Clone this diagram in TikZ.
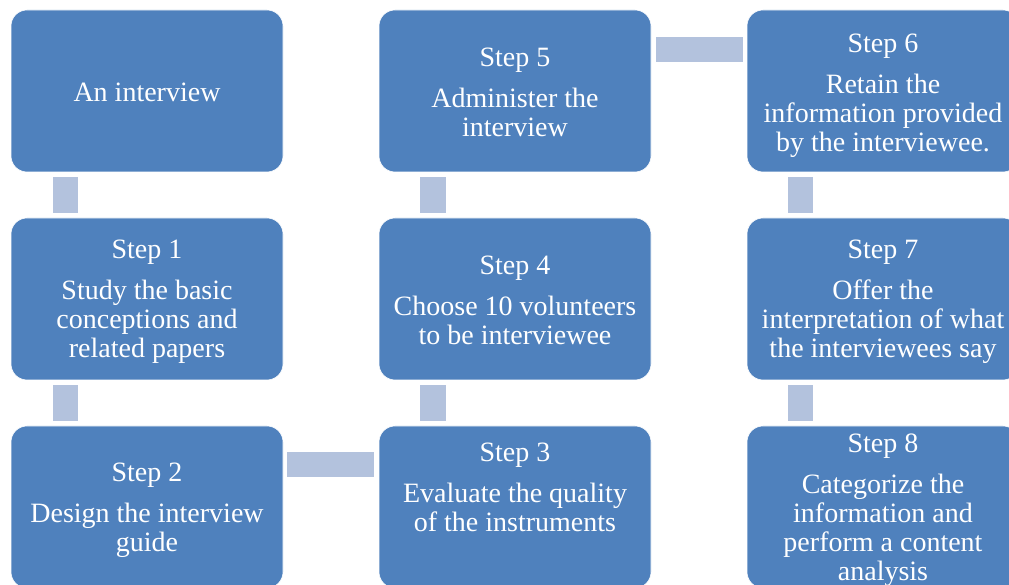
\documentclass[tikz,border=0pt]{standalone}
\usepackage{fontspec}
\setmainfont{Liberation Serif}
\definecolor{boxblue}{HTML}{4F81BD}
\definecolor{connblue}{HTML}{B3C2DD}
\begin{document}
\begin{tikzpicture}[x=1pt,y=1pt,
  box/.style={draw=white, line width=0.6pt, fill=boxblue, rounded corners=16pt,
    minimum width=272pt, minimum height=162pt, inner sep=0pt, outer sep=0pt},
  lbl/.style={text=white, font=\fontsize{28}{29}\selectfont, align=center, inner sep=0pt},
  conn/.style={fill=connblue}]
\useasboundingbox (0,0) rectangle (1009,585);
\clip (0,0) rectangle (1009,585);
% boxes
\node[box] (b0) at (147,494) {};
\node[box] (b1) at (147,286) {};
\node[box] (b2) at (147,78) {};
\node[box] (b3) at (515,78) {};
\node[box] (b4) at (515,286) {};
\node[box] (b5) at (515,494) {};
\node[box] (b6) at (883,494) {};
\node[box] (b7) at (883,286) {};
\node[box] (b8) at (883,78) {};
% labels
\node[lbl] (t0) at ([yshift=-1]b0.center) {An interview};
\node[lbl] (t1) at ([yshift=-3]b1.center) {Step 1\\[12pt]Study the basic\\conceptions and\\related papers};
\node[lbl] (t2) at ([yshift=-3]b2.center) {Step 2\\[12pt]Design the interview\\guide};
\node[lbl] (t3) at ([yshift=20]b3.center) {Step 3\\[12pt]Evaluate the quality\\of the instruments};
\node[lbl] (t4) at ([yshift=-1]b4.center) {Step 4\\[12pt]Choose 10 volunteers\\to be interviewee};
\node[lbl] (t5) at ([yshift=-1]b5.center) {Step 5\\[12pt]Administer the\\interview};
\node[lbl] (t6) at ([yshift=-4.5]b6.center) {Step 6\\[12pt]Retain the\\information provided\\by the interviewee.};
\node[lbl] (t7) at ([yshift=-3]b7.center) {Step 7\\[12pt]Offer the\\interpretation of what\\the interviewees say};
\node[lbl] (t8) at ([yshift=-3]b8.center) {Step 8\\[12pt]Categorize the\\information and\\perform a content\\analysis};
% connectors
\fill[conn] ([xshift=42,yshift=-5]b0.south west) rectangle ([xshift=67,yshift=5]b1.north west);
\fill[conn] ([xshift=42,yshift=-5]b1.south west) rectangle ([xshift=67,yshift=5]b2.north west);
\fill[conn] ([xshift=4,yshift=-26]b2.north east) rectangle ([xshift=-5,yshift=-51]b3.north west);
\fill[conn] ([xshift=41,yshift=-5]b4.south west) rectangle ([xshift=67,yshift=5]b3.north west);
\fill[conn] ([xshift=41,yshift=-5]b5.south west) rectangle ([xshift=67,yshift=5]b4.north west);
\fill[conn] ([xshift=5,yshift=-27]b5.north east) rectangle ([xshift=-4,yshift=-52]b6.north west);
\fill[conn] ([xshift=41,yshift=-5]b6.south west) rectangle ([xshift=66,yshift=5]b7.north west);
\fill[conn] ([xshift=41,yshift=-5]b7.south west) rectangle ([xshift=66,yshift=5]b8.north west);
\end{tikzpicture}
\end{document}
